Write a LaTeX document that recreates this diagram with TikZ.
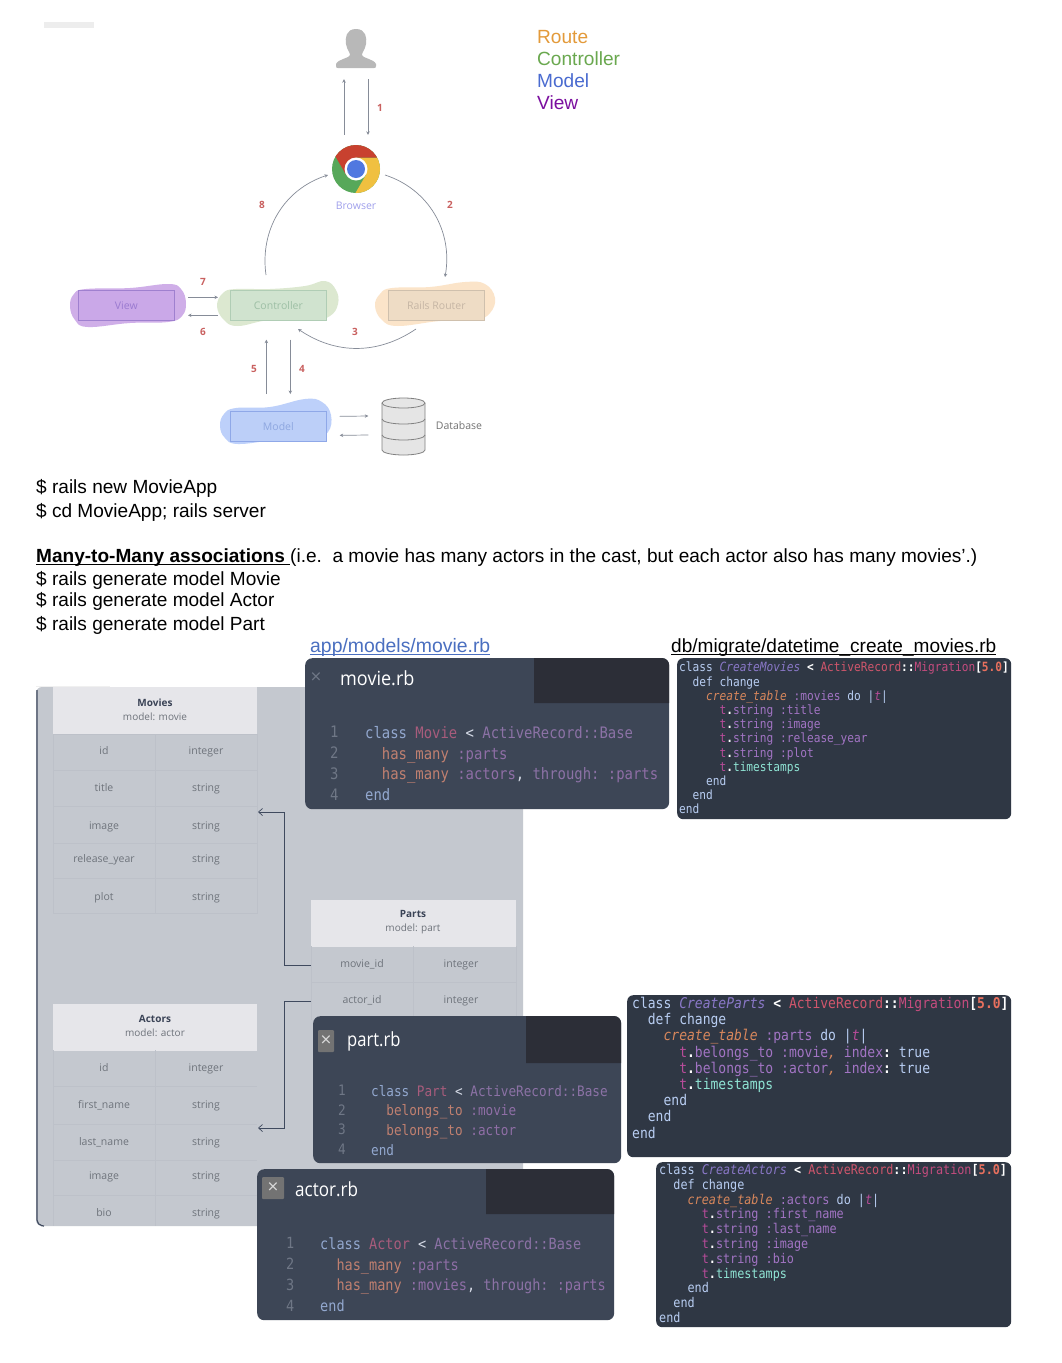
\documentclass[tikz,border=0pt]{standalone}
\usepackage{fontspec}
\setmainfont{Liberation Sans}
\newfontfamily\uisans{Open Sans}
\newfontfamily\codef[FakeStretch=0.88]{DejaVu Sans Mono}
\usetikzlibrary{arrows.meta}
\definecolor{arrc}{HTML}{868C98}
\definecolor{numc}{HTML}{C9605F}
\definecolor{panelc}{HTML}{C4C8CF}
\definecolor{hdrc}{HTML}{E6E6EA}
\definecolor{gridc}{HTML}{BDC1C9}
\definecolor{cellc}{HTML}{6E737B}
\definecolor{titlec}{HTML}{3A4356}
\definecolor{linkc}{HTML}{3F4A5E}
\definecolor{rbbg}{HTML}{3D4656}
\definecolor{tabc}{HTML}{2C2E37}
\definecolor{migbg}{HTML}{2F3744}
\definecolor{rbnum}{HTML}{6F7786}
\definecolor{rbkw}{HTML}{93A8CF}
\definecolor{rbcl}{HTML}{A85C7C}
\definecolor{rbar}{HTML}{8C72A6}
\definecolor{rbfn}{HTML}{C08070}
\definecolor{rbsy}{HTML}{8F6EA6}
\definecolor{rbop}{HTML}{D5DAE6}
\definecolor{mkw}{HTML}{B8CDF2}
\definecolor{mcl}{HTML}{8A78C8}
\definecolor{mar}{HTML}{D0566C}
\definecolor{mmi}{HTML}{C44C7E}
\definecolor{mnu}{HTML}{E8705E}
\definecolor{mfn}{HTML}{D8875C}
\definecolor{msy}{HTML}{A274C4}
\definecolor{mtv}{HTML}{B84C9A}
\definecolor{mte}{HTML}{8FE4D4}
\definecolor{lroutec}{HTML}{E39A3A}
\definecolor{lctrlc}{HTML}{6AA84F}
\definecolor{lmodelc}{HTML}{4A6BD0}
\definecolor{lviewc}{HTML}{7B0F9F}
\definecolor{linkblue}{HTML}{4A6FC0}
\definecolor{chg}{HTML}{57A85A}
\definecolor{chy}{HTML}{F0C040}
\definecolor{chr}{HTML}{C8412F}
\definecolor{chb}{HTML}{5078E0}
\definecolor{blv}{HTML}{CFAEE8}
\definecolor{blc}{HTML}{DCE8D0}
\definecolor{blr}{HTML}{FBE4C9}
\definecolor{blm}{HTML}{BDD0FA}
\definecolor{rvd}{HTML}{9F80CF}\definecolor{rvf}{HTML}{CAA8E8}\definecolor{rvt}{HTML}{9A7AD0}
\definecolor{rcd}{HTML}{B0CDB5}\definecolor{rcf}{HTML}{D0E3CF}\definecolor{rct}{HTML}{9DBFA5}
\definecolor{rrd}{HTML}{CFC0AD}\definecolor{rrf}{HTML}{EEDCC5}\definecolor{rrt}{HTML}{C6B6A5}
\definecolor{rmd}{HTML}{8FA8E8}\definecolor{rmf}{HTML}{BCCFF8}\definecolor{rmt}{HTML}{8EA7E0}
\newcommand{\rk}[1]{\textcolor{rbkw}{#1}}
\newcommand{\rc}[1]{\textcolor{rbcl}{#1}}
\newcommand{\ra}[1]{\textcolor{rbar}{#1}}
\newcommand{\rf}[1]{\textcolor{rbfn}{#1}}
\newcommand{\rs}[1]{\textcolor{rbsy}{#1}}
\newcommand{\ro}[1]{\textcolor{rbop}{#1}}
\newcommand{\mk}[1]{\textcolor{mkw}{#1}}
\newcommand{\mc}[1]{\textcolor{mcl}{\itshape #1}}
\newcommand{\mr}[1]{\textcolor{mar}{#1}}
\newcommand{\mi}[1]{\textcolor{mmi}{#1}}
\newcommand{\mn}[1]{\textcolor{mnu}{\bfseries #1}}
\newcommand{\mf}[1]{\textcolor{mfn}{\itshape #1}}
\newcommand{\ms}[1]{\textcolor{msy}{#1}}
\newcommand{\mt}[1]{\textcolor{mtv}{#1}}
\newcommand{\mT}[1]{\textcolor{mte}{#1}}
\newcommand{\mw}[1]{\textcolor{white}{\bfseries #1}}
\newcommand{\ind}[1]{\hspace*{#1\fontcharwd\font`x}}
\newcommand{\cf}[2]{\codef\fontsize{#1}{#2}\selectfont\frenchspacing\spaceskip=\fontcharwd\font`x\relax}
\newcommand{\ulx}[1]{\setbox0\hbox{#1}\rlap{\rule[-2.8pt]{\wd0}{1pt}}\box0}
\newcommand{\migcls}[1]{\mk{class} \mc{#1} \mw{<} \mr{ActiveRecord}\mw{::}\mi{Migration}\mw{[}\mn{5.0}\mw{]}}
\tikzset{
  x=1pt,y=-1pt,
  >={Stealth[length=3.5pt,width=3.5pt]},
  arr/.style={draw=arrc,line width=.7pt,->},
  num/.style={text=numc,font=\uisans\bfseries\fontsize{10}{11}\selectfont,inner sep=0pt},
  legend/.style={font=\fontsize{19.1}{22}\selectfont,inner sep=0pt,anchor=base west},
  doc/.style={font=\fontsize{19.05}{22}\selectfont,inner sep=0pt,anchor=base west,text=black},
  mvc/.style 2 args={draw=#1,fill=#2,line width=.7pt,minimum width=96pt,minimum height=30pt,inner sep=0pt,anchor=north west},
  mvclabel/.style={text=#1,font=\uisans\fontsize{10.5}{12}\selectfont},
  hdr/.style={fill=hdrc,minimum width=#1,minimum height=47pt,inner sep=0pt,anchor=north west,align=center},
  tt/.style={font=\uisans\bfseries\fontsize{10}{13.5}\selectfont,text=titlec},
  cell/.style={font=\uisans\fontsize{10.5}{12}\selectfont,text=cellc,inner sep=0pt,text height=8pt,text depth=2.5pt},
  grid/.style={draw=gridc,line width=.6pt},
  conn/.style={draw=linkc,line width=.7pt,-{Straight Barb[length=4pt,width=7pt]}},
  rbbox/.style={fill=rbbg,rounded corners=7pt,inner sep=0pt,anchor=north west,minimum width=#1},
  migbox/.style={fill=migbg,rounded corners=6pt,inner sep=0pt,anchor=north west,minimum width=#1},
  fname/.style={text=white,font=\uisans\fontsize{19.5}{22}\selectfont,inner sep=0pt,anchor=west},
  closex/.style={fill=#1,text=white!85!black,font=\uisans\fontsize{19}{18}\selectfont,inner sep=0pt,minimum width=22pt,minimum height=22pt,rounded corners=1pt},
  code/.style={inner sep=0pt,anchor=north west,align=left},
}
\begin{document}
\begin{tikzpicture}
\useasboundingbox (0,0) rectangle (1061,1363);
\fill[white] (0,0) rectangle (1061,1363);
\fill[black!7] (44,22) rectangle (94,28);

% legend
\node[legend,text=lroutec] (lroute) at (537,43) {Route};
\node[legend,text=lctrlc] (lctrl) at (537,65) {Controller};
\node[legend,text=lmodelc] (lmodel) at (537,87) {Model};
\node[legend,text=lviewc] (lview) at (537,109) {View};

% person
\coordinate (person) at (356,48);
\node[minimum width=40pt,minimum height=40pt,inner sep=0pt] (personn) at (person) {};
\fill[black!28] (356,29) .. controls (346,29) and (345,38) .. (346,44) .. controls (347,50) and (350,52) .. (350,55)
  .. controls (350,58) and (338,59) .. (336,64) -- (336,66) .. controls (336,68) and (337,68) .. (338,68) -- (374,68)
  .. controls (375,68) and (376,68) .. (376,66) -- (376,64) .. controls (374,59) and (362,58) .. (362,55)
  .. controls (362,52) and (365,50) .. (366,44) .. controls (367,38) and (366,29) .. (356,29) -- cycle;

% browser
\node[circle,minimum size=48pt,inner sep=0pt] (browser) at (356,169) {};
\begin{scope}
\clip (browser) circle[radius=24pt];
\fill[chg] (330,143) rectangle (382,195);
\fill[chy] (356,157.5) -- (386,157.5) -- (386,209.4) -- (346,209.4) -- (366,174.75) -- cycle;
\fill[chr] (346,174.75) -- (326,140) -- (386,140) -- (386,157.5) -- (356,157.5) -- cycle;
\end{scope}
\fill[white] (browser) circle[radius=11.5pt];
\fill[chb] (browser) circle[radius=9pt];
\node[text=blue!35!white!85!gray,font=\uisans\fontsize{10.5}{12}\selectfont,inner sep=0pt] (blabel) at (356,205.5) {Browser};

% blobs
\fill[blv] plot[smooth cycle,tension=.7] coordinates {(70,306) (74,294) (86,289) (130,288) (168,284) (181,289) (186,303) (182,316) (168,322) (130,323) (88,327) (75,320)};
\fill[blc] plot[smooth cycle,tension=.7] coordinates {(217,306) (223,293) (236,289) (270,289) (305,286) (325,281) (336,290) (338,304) (330,316) (312,320) (270,320) (238,326) (224,320)};
\fill[blr] plot[smooth cycle,tension=.7] coordinates {(375,306) (380,294) (392,288) (430,287) (465,282) (485,284) (495,298) (490,313) (475,320) (440,321) (398,326) (382,320)};
\fill[blm] plot[smooth cycle,tension=.7] coordinates {(220,426) (224,414) (236,408) (270,407) (305,399) (322,402) (331,415) (328,432) (312,438) (275,440) (238,444) (225,438)};

% mvc boxes
\node[mvc={rvd}{rvf}] (view) at (78,290) {};
\node[mvclabel=rvt] (viewt) at (view.center) {View};
\node[mvc={rcd}{rcf}] (ctrl) at (230,290) {};
\node[mvclabel=rct] (ctrlt) at (ctrl.center) {Controller};
\node[mvc={rrd}{rrf}] (router) at (388,290) {};
\node[mvclabel=rrt] (routert) at (router.center) {Rails Router};
\node[mvc={rmd}{rmf}] (model) at (230,411) {};
\node[mvclabel=rmt] (modelt) at (model.center) {Model};

% database
\node[minimum width=44pt,minimum height=58pt,inner sep=0pt] (db) at (403.5,426) {};
\filldraw[fill=black!10,draw=black!50,line width=.8pt] (382,403) -- (382,450) arc[start angle=180,end angle=360,x radius=21.5pt,y radius=5pt] -- (425,403) arc[start angle=0,end angle=180,x radius=21.5pt,y radius=5pt] -- cycle;
\draw[black!50,line width=.8pt] (382,403) arc[start angle=180,end angle=360,x radius=21.5pt,y radius=5pt];
\draw[black!50,line width=.8pt] (382,419) arc[start angle=180,end angle=360,x radius=21.5pt,y radius=5pt];
\draw[black!50,line width=.8pt] (382,435) arc[start angle=180,end angle=360,x radius=21.5pt,y radius=5pt];
\node[text=black!55,font=\uisans\fontsize{10.5}{12}\selectfont,inner sep=0pt] (dblabel) at (459,426) {Database};

% flow arrows
\draw[arr] ([shift={(-12,-10)}]browser.north) -- ([shift={(-12,11)}]personn.south);
\draw[arr] ([shift={(12,11)}]personn.south) -- ([shift={(12,-10)}]browser.north);
\coordinate (a2s) at (385,175);
\coordinate (a2e) at (445,277);
\coordinate (a8s) at (266,275);
\coordinate (a8e) at (328,175);
\coordinate (a3s) at (416,329);
\coordinate (a3e) at (298,329);
\draw[arr] (a2s) to[out=-18,in=80] (a2e);
\draw[arr] (a8s) to[out=98,in=198] (a8e);
\draw[arr] (a3s) to[out=-146,in=-34] (a3e);
\draw[arr] ([shift={(-42,-8)}]ctrl.west) -- ([shift={(-12,-8)}]ctrl.west);
\draw[arr] ([shift={(-12,10)}]ctrl.west) -- ([shift={(-42,10)}]ctrl.west);
\draw[arr] ([shift={(-12,-17)}]model.north) -- ([shift={(-12,19)}]ctrl.south);
\draw[arr] ([shift={(12,19)}]ctrl.south) -- ([shift={(12,-17)}]model.north);
\draw[arr] ([shift={(13,-10)}]model.east) -- ([shift={(-13,-10)}]db.west);
\draw[arr] ([shift={(-13,9)}]db.west) -- ([shift={(13,9)}]model.east);
\node[num] (n1) at (380,108) {1};
\node[num] (n2) at (450,205) {2};
\node[num] (n3) at (355,332) {3};
\node[num] (n4) at (302,369) {4};
\node[num] (n5) at (254,369) {5};
\node[num] (n6) at (203,332) {6};
\node[num] (n7) at (203,282) {7};
\node[num] (n8) at (262,205) {8};

% document text
\node[doc] (t1) at (36,493.5) {\$ rails new MovieApp};
\node[doc] (t2) at (36,517.5) {\$ cd MovieApp; rails server};
\node[doc] (t3) at (36,562.5) {\ulx{\textbf{Many-to-Many associations\ }}(i.e.\ \ a movie has many actors in the cast, but each actor also has many movies'.)};
\node[doc] (t4) at (36,585.5) {\$ rails generate model Movie};
\node[doc] (t5) at (36,606.5) {\$ rails generate model Actor};
\node[doc] (t6) at (36,630.5) {\$ rails generate model Part};
\node[doc,text=linkblue,font=\fontsize{19.4}{22}\selectfont] (t7) at (310,652) {\ulx{app/models/movie.rb}};
\node[doc] (t8) at (671,652) {\ulx{db/migrate/datetime\_create\_movies.rb}};

% schema panel
\fill[panelc,rounded corners=6pt] (36,687) rectangle (523,1226);
\draw[linkc,line width=1.2pt,rounded corners=5pt] (37,690) -- (37,1225) -- (44,1226);
\fill[black!6] (36,685.5) rectangle (110,687);

% Movies table
\node[hdr=204pt] (mhead) at (53,687) {};
\node[tt,inner sep=0pt,align=center] (mtitle) at (155,710) {Movies\\\textcolor{cellc}{\mdseries model: movie}};
\draw[grid] (53,734) rectangle (257,913);
\draw[grid] (155,734) -- (155,913);
\foreach \y in {770,806,843,878} \draw[grid] (53,\y) -- (257,\y);
\foreach \n/\y/\a/\b in {1/752/id/integer,2/789/title/string,3/827/image/string,4/860/release\_year/string,5/898/plot/string}{
  \node[cell] (ma\n) at (104,\y) {\a};
  \node[cell] (mb\n) at (206,\y) {\b};
}
% Actors table
\node[hdr=204pt] (ahead) at (53,1004) {};
\node[tt,inner sep=0pt,align=center] (atitle) at (155,1026) {Actors\\\textcolor{cellc}{\mdseries model: actor}};
\draw[grid] (53,1050) -- (53,1226);
\draw[grid] (155,1050) -- (155,1226);
\foreach \y in {1086,1124,1160,1195} \draw[grid] (53,\y) -- (257,\y);
\foreach \n/\y/\a/\b in {1/1069/id/integer,2/1106/first\_name/string,3/1143/last\_name/string,4/1177/image/string,5/1214/bio/string}{
  \node[cell] (aa\n) at (104,\y) {\a};
  \node[cell] (ab\n) at (206,\y) {\b};
}
% Parts table
\node[hdr=205pt] (phead) at (311,900) {};
\node[tt,inner sep=0pt,align=center] (ptitle) at (413,922) {Parts\\\textcolor{cellc}{\mdseries model: part}};
\draw[grid] (311,946) -- (311,1020);
\draw[grid] (516,946) -- (516,1020);
\draw[grid] (413,946) -- (413,1020);
\draw[grid] (311,982) -- (516,982);
\foreach \n/\y/\a/\b in {1/965/movie\_id/integer,2/1001/actor\_id/integer}{
  \node[cell] (pa\n) at (362,\y) {\a};
  \node[cell] (pb\n) at (461,\y) {\b};
}
% links
\coordinate (mtarget) at (258,812);
\coordinate (atarget) at (258,1128);
\coordinate (pm) at (311,965);
\coordinate (pa) at (311,1001);
\draw[conn] (pm) -- (284,965) -- (284,812) -- (mtarget);
\draw[conn] (pa) -- (284,1001) -- (284,1128) -- (atarget);

% movie.rb
\node[rbbox=364pt,minimum height=151pt] (movierb) at (305,658) {};
\fill[tabc] (534,703) -- (534,658) [rounded corners=7pt] -- (669,658) [sharp corners] -- (669,703) -- cycle;
\node[text=rbnum,font=\uisans\fontsize{19}{18}\selectfont,inner sep=0pt] (mx) at (316,678) {×};
\node[fname] (mfile) at (340,678) {\scalebox{.925}[1]{movie.rb}};
\node[code,text=rbnum,font=\cf{15.8}{20.8}] (mnums) at (330,726) {1\\2\\3\\4};
\node[code,font=\cf{15.8}{20.8}] (mcode) at (365,726) {\rk{class} \rc{Movie} \ro{<} \ra{ActiveRecord::Base}\\
\ind{2}\rf{has\_many} \rs{:parts}\\
\ind{2}\rf{has\_many} \rs{:actors}\ro{,} \ra{through:} \rs{:parts}\\
\rk{end}};

% part.rb
\node[rbbox=308pt,minimum height=147pt] (partrb) at (313,1016) {};
\fill[tabc] (526,1063) -- (526,1016) [rounded corners=7pt] -- (621,1016) [sharp corners] -- (621,1063) -- cycle;
\node[closex=black!55,minimum width=16pt] (px) at (326,1041) {×};
\node[fname] (pfile) at (347,1041.5) {\scalebox{.85}[1]{part.rb}};
\node[code,text=rbnum,font=\cf{14.4}{19.6}] (pnums) at (338,1085) {1\\2\\3\\4};
\node[code,font=\cf{14.4}{19.6}] (pcode) at (371,1085) {\rk{class} \rc{Part} \ro{<} \ra{ActiveRecord::Base}\\
\ind{2}\rf{belongs\_to} \rs{:movie}\\
\ind{2}\rf{belongs\_to} \rs{:actor}\\
\rk{end}};

% actor.rb
\node[rbbox=357pt,minimum height=151pt] (actorrb) at (257,1169) {};
\fill[tabc] (486,1214) -- (486,1169) [rounded corners=7pt] -- (614,1169) [sharp corners] -- (614,1214) -- cycle;
\node[closex=black!55] (ax) at (273,1188) {×};
\node[fname] (afile) at (295,1189) {\scalebox{.875}[1]{actor.rb}};
\node[code,text=rbnum,font=\cf{15.4}{20.7}] (anums) at (286,1237.5) {1\\2\\3\\4};
\node[code,font=\cf{15.4}{20.7}] (acode) at (320,1237.5) {\rk{class} \rc{Actor} \ro{<} \ra{ActiveRecord::Base}\\
\ind{2}\rf{has\_many} \rs{:parts}\\
\ind{2}\rf{has\_many} \rs{:movies}\ro{,} \ra{through:} \rs{:parts}\\
\rk{end}};

% CreateMovies
\node[migbox=334pt,minimum height=161pt] (mmig) at (677,658) {};
\node[code,font=\cf{12.7}{14.2}] (mmigc) at (679,662) {\migcls{CreateMovies}\\
\ind{2}\mk{def change}\\
\ind{4}\mf{create\_table} \ms{:movies} \mk{do} \mk{|}\mt{\itshape t}\mk{|}\\
\ind{6}\mt{t}\mw{.}\ms{string} \ms{:title}\\
\ind{6}\mt{t}\mw{.}\ms{string} \ms{:image}\\
\ind{6}\mt{t}\mw{.}\ms{string} \ms{:release\_year}\\
\ind{6}\mt{t}\mw{.}\ms{string} \ms{:plot}\\
\ind{6}\mt{t}\mw{.}\mT{timestamps}\\
\ind{4}\mk{end}\\
\ind{2}\mk{end}\\
\mk{end}};

% CreateParts
\node[migbox=384pt,minimum height=162pt] (pmig) at (627,995) {};
\node[code,font=\cf{14.8}{16.2}] (pmigc) at (632,997) {\migcls{CreateParts}\\
\ind{2}\mk{def change}\\
\ind{4}\mf{create\_table} \ms{:parts} \mk{do} \mk{|}\mt{\itshape t}\mk{|}\\
\ind{6}\mt{t}\mw{.}\ms{belongs\_to} \ms{:movie}\mf{,} \ms{index}\mw{:} \mk{true}\\
\ind{6}\mt{t}\mw{.}\ms{belongs\_to} \ms{:actor}\mf{,} \ms{index}\mw{:} \mk{true}\\
\ind{6}\mt{t}\mw{.}\mT{timestamps}\\
\ind{4}\mk{end}\\
\ind{2}\mk{end}\\
\mk{end}};

% CreateActors
\node[migbox=355pt,minimum height=165pt] (amig) at (656,1162) {};
\node[code,font=\cf{13.4}{14.8}] (amigc) at (659,1164) {\migcls{CreateActors}\\
\ind{2}\mk{def change}\\
\ind{4}\mf{create\_table} \ms{:actors} \mk{do} \mk{|}\mt{\itshape t}\mk{|}\\
\ind{6}\mt{t}\mw{.}\ms{string} \ms{:first\_name}\\
\ind{6}\mt{t}\mw{.}\ms{string} \ms{:last\_name}\\
\ind{6}\mt{t}\mw{.}\ms{string} \ms{:image}\\
\ind{6}\mt{t}\mw{.}\ms{string} \ms{:bio}\\
\ind{6}\mt{t}\mw{.}\mT{timestamps}\\
\ind{4}\mk{end}\\
\ind{2}\mk{end}\\
\mk{end}};
\end{tikzpicture}
\end{document}
